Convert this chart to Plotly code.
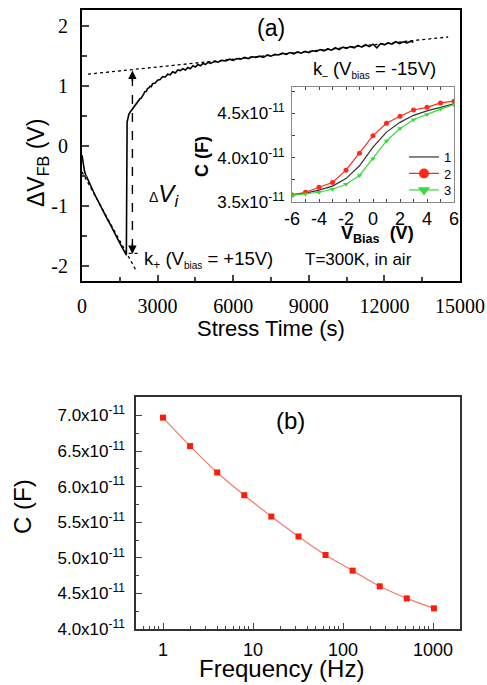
import plotly.graph_objects as go

W, H = 487, 685
OFF = 0  # page margin is removed by the post script below

# ---------------- Panel (a): flat-band voltage shift vs stress time ----------------
T_STRESS = [0, 20, 40, 70, 100, 140, 180, 220, 300, 380, 460, 540, 620, 700, 780, 860, 940,
            1020, 1100, 1180, 1260, 1340, 1420, 1500, 1580, 1660, 1720, 1760,
            1790, 1820, 1860, 1900, 1950, 2000, 2050, 2100, 2150, 2200, 2250, 2300, 2350,
            2400, 2450, 2500, 2550, 2600, 2650, 2700, 2750, 2800, 2900, 3000, 3100, 3200,
            3300, 3400, 3500, 3600, 3700, 3800, 3900, 4000, 4100, 4200, 4300, 4400, 4500,
            4600, 4700, 4800, 4900, 5000, 5100, 5250, 5400, 5550, 5700, 5850, 6000, 6150,
            6300, 6450, 6600, 6750, 6900, 7050, 7200, 7350, 7500, 7650, 7800, 7950, 8100,
            8250, 8400, 8550, 8700, 8850, 9000, 9150, 9300, 9450, 9600, 9750, 9900, 10050,
            10200, 10350, 10500, 10650, 10800, 10950, 11100, 11250, 11400, 11550, 11700,
            11850, 12000, 12150, 12300, 12450, 12600, 12750, 12900, 13050, 13150]
DV_FB = [-0.15, -0.22, -0.30, -0.36, -0.42, -0.47, -0.51, -0.55, -0.62, -0.70, -0.76, -0.84,
         -0.90, -0.97, -1.03, -1.10, -1.16, -1.23, -1.29, -1.36, -1.42, -1.49, -1.55, -1.62,
         -1.68, -1.75, -1.79, -1.82,
         0.40, 0.47, 0.53, 0.56, 0.59, 0.63, 0.65, 0.69, 0.70, 0.74, 0.76, 0.79, 0.80,
         0.85, 0.87, 0.91, 0.91, 0.96, 0.97, 1.00, 0.99, 1.04, 1.05, 1.10, 1.11, 1.16,
         1.15, 1.20, 1.19, 1.24, 1.22, 1.27, 1.26, 1.29, 1.27, 1.31, 1.29, 1.34, 1.32,
         1.36, 1.34, 1.38, 1.36, 1.40, 1.38, 1.41, 1.40, 1.43, 1.42, 1.45, 1.43, 1.46,
         1.45, 1.48, 1.46, 1.49, 1.48, 1.50, 1.48, 1.52, 1.50, 1.53, 1.52, 1.55, 1.53,
         1.56, 1.54, 1.57, 1.55, 1.58, 1.56, 1.59, 1.58, 1.61, 1.59, 1.62, 1.60, 1.64,
         1.61, 1.65, 1.63, 1.66, 1.64, 1.68, 1.65, 1.69, 1.66, 1.70, 1.64,
         1.71, 1.69, 1.72, 1.70, 1.74, 1.71, 1.74, 1.72, 1.75, 1.73]
A_XTICKS = [0, 3000, 6000, 9000, 12000, 15000]
A_YTICKS = [-2, -1, 0, 1, 2]

# tangent (dotted) lines k- and k+
K_MINUS_T = [240, 14530]
K_MINUS_V = [1.20, 1.82]
K_PLUS_T = [0, 2180]
K_PLUS_V = [-0.43, -2.10]
K_PLUS_END_T = [1850, 2250]
K_PLUS_END_V = [-1.79, -1.79]
# dashed double arrow ΔVi
DVI_T = 2000
DVI_V = [-1.80, 1.26]

# ---------------- Inset: C-V curves ----------------
V_BIAS = [-6, -5, -4, -3, -2, -1, 0, 1, 2, 3, 4, 5, 6]
C_1 = [3.58e-11, 3.60e-11, 3.635e-11, 3.68e-11, 3.765e-11, 3.91e-11, 4.12e-11, 4.29e-11,
       4.40e-11, 4.48e-11, 4.53e-11, 4.57e-11, 4.61e-11]
C_2 = [3.58e-11, 3.61e-11, 3.667e-11, 3.72e-11, 3.86e-11, 4.05e-11, 4.25e-11, 4.39e-11,
       4.47e-11, 4.54e-11, 4.57e-11, 4.62e-11, 4.64e-11]
C_3 = [3.574e-11, 3.59e-11, 3.61e-11, 3.644e-11, 3.70e-11, 3.80e-11, 3.99e-11, 4.19e-11,
       4.33e-11, 4.43e-11, 4.49e-11, 4.55e-11, 4.60e-11]
INSET_LABELS = ["1", "2", "3"]
INSET_XTICKS = [-6, -4, -2, 0, 2, 4, 6]
INSET_YTICKS = [3.5e-11, 4.0e-11, 4.5e-11]
INSET_YTEXT = ["3.5x10<sup>-11</sup>", "4.0x10<sup>-11</sup>", "4.5x10<sup>-11</sup>"]

# ---------------- Panel (b): C vs frequency ----------------
FREQ = [1, 2, 4, 8, 16, 32, 64, 128, 256, 512, 1024]
C_FREQ = [6.97e-11, 6.57e-11, 6.20e-11, 5.88e-11, 5.58e-11, 5.30e-11, 5.04e-11, 4.82e-11,
          4.60e-11, 4.43e-11, 4.29e-11]
B_YTICKS = [4.0e-11, 4.5e-11, 5.0e-11, 5.5e-11, 6.0e-11, 6.5e-11, 7.0e-11]
B_YTEXT = [f"{v*1e11:.1f}x10<sup>-11</sup>" for v in B_YTICKS]
B_XTICKS = [1, 10, 100, 1000]
B_XMINOR = [0.6, 0.7, 0.8, 0.9, 2, 3, 4, 5, 6, 7, 8, 9, 20, 30, 40, 50, 60, 70, 80, 90,
            200, 300, 400, 500, 600, 700, 800, 900, 2000]

SANS = "Liberation Sans, Arial, sans-serif"
SERIF = "Liberation Serif, Times New Roman, serif"
RED = "#ff2a1a"
GREEN = "#3ada3a"
BLACK_CV = "#333333"


def px(x, y):
    """reference pixel -> paper coordinate"""
    return (x - OFF) / W, 1 - (y - OFF) / H


fig = go.Figure()

# panel (a) traces
fig.add_trace(go.Scatter(x=T_STRESS, y=DV_FB, mode="lines", line=dict(color="black", width=1.6),
                         showlegend=False, xaxis="x", yaxis="y"))
for tt, vv in [(K_MINUS_T, K_MINUS_V), (K_PLUS_T, K_PLUS_V), (K_PLUS_END_T, K_PLUS_END_V)]:
    fig.add_trace(go.Scatter(x=tt, y=vv, mode="lines", line=dict(color="black", width=1.3, dash="dot"),
                             showlegend=False, xaxis="x", yaxis="y"))
fig.add_trace(go.Scatter(x=[DVI_T, DVI_T], y=[DVI_V[0] + 0.1, DVI_V[1] - 0.1], mode="lines",
                         line=dict(color="black", width=1.4, dash="dash"),
                         showlegend=False, xaxis="x", yaxis="y"))

# inset traces
fig.add_trace(go.Scatter(x=V_BIAS, y=C_1, mode="lines", line=dict(color=BLACK_CV, width=1.2),
                         showlegend=False, xaxis="x2", yaxis="y2"))
fig.add_trace(go.Scatter(x=V_BIAS, y=C_2, mode="lines+markers", line=dict(color=RED, width=1.2),
                         marker=dict(symbol="circle", size=5, color=RED),
                         showlegend=False, xaxis="x2", yaxis="y2"))
fig.add_trace(go.Scatter(x=V_BIAS, y=C_3, mode="lines+markers", line=dict(color=GREEN, width=1.2),
                         marker=dict(symbol="triangle-down", size=5, color=GREEN),
                         showlegend=False, xaxis="x2", yaxis="y2"))
# legend entries for inset (one legend per entry so the row spacing matches)
fig.add_trace(go.Scatter(x=[None], y=[None], mode="lines", name=INSET_LABELS[0], legend="legend",
                         line=dict(color=BLACK_CV, width=1.2), xaxis="x2", yaxis="y2"))
fig.add_trace(go.Scatter(x=[None], y=[None], mode="lines+markers", name=INSET_LABELS[1], legend="legend2",
                         line=dict(color=RED, width=1.2), marker=dict(symbol="circle", size=10, color=RED),
                         xaxis="x2", yaxis="y2"))
fig.add_trace(go.Scatter(x=[None], y=[None], mode="lines+markers", name=INSET_LABELS[2], legend="legend3",
                         line=dict(color=GREEN, width=1.2),
                         marker=dict(symbol="triangle-down", size=11, color=GREEN),
                         xaxis="x2", yaxis="y2"))

# panel (b)
fig.add_trace(go.Scatter(x=FREQ, y=C_FREQ, mode="lines+markers",
                         line=dict(color="#f07a70", width=1.2, shape="spline"),
                         marker=dict(symbol="square", size=6, color="#ff1a0a"),
                         showlegend=False, xaxis="x3", yaxis="y3"))

ax_common = dict(showgrid=False, zeroline=False, ticks="inside", showline=True, mirror=True)

x0, ya1 = px(82, 10)
x1, ya0 = px(460, 281)
xi0, yi1 = px(292, 87)
xi1, yi0 = px(454, 202)
xb0, yb1 = px(136, 397)
_, yb0 = px(0, 629)


def leg(ypix):
    return dict(x=px(404, 0)[0], y=px(0, ypix)[1], xanchor="left", yanchor="middle",
                bgcolor="rgba(0,0,0,0)", font=dict(family=SANS, size=13, color="black"),
                itemwidth=30, tracegroupgap=0)


fig.update_layout(
    width=W, height=H, margin=dict(l=0, r=0, t=0, b=0),
    paper_bgcolor="white", plot_bgcolor="white", template="none",
    xaxis=dict(domain=[x0, x1], anchor="y", range=[0, 15000], tickvals=A_XTICKS,
               ticktext=[str(v) for v in A_XTICKS],
               ticklen=6, tickwidth=1.5, linewidth=2, linecolor="black",
               minor=dict(ticks="inside", dtick=1500, ticklen=4, tickwidth=1.5),
               tickfont=dict(family=SERIF, size=20, color="black"), ticklabelstandoff=6, **ax_common),
    yaxis=dict(domain=[ya0, ya1], anchor="x", range=[-2.25, 2.27], tickvals=A_YTICKS,
               ticktext=[str(v) for v in A_YTICKS],
               ticklen=7, tickwidth=1.5, linewidth=2, linecolor="black",
               minor=dict(ticks="inside", dtick=0.5, ticklen=5, tickwidth=1.5),
               tickfont=dict(family=SERIF, size=20, color="black"), ticklabelstandoff=8, **ax_common),
    xaxis2=dict(domain=[xi0, xi1], anchor="y2", range=[-6, 6], tickvals=INSET_XTICKS,
                ticktext=[str(v) for v in INSET_XTICKS],
                ticklen=3, tickwidth=1, linewidth=1, linecolor="#8a8a8a",
                minor=dict(ticks="inside", dtick=1, ticklen=3, tickwidth=1),
                tickfont=dict(family=SANS, size=18, color="black"), ticklabelstandoff=0,
                showgrid=False, zeroline=False, ticks="inside", showline=True, mirror="allticks"),
    yaxis2=dict(domain=[yi0, yi1], anchor="x2", range=[3.5e-11, 4.8e-11], tickvals=INSET_YTICKS,
                ticktext=INSET_YTEXT, ticklen=3, tickwidth=1, linewidth=1, linecolor="#8a8a8a",
                minor=dict(ticks="inside", dtick=0.25e-11, ticklen=3, tickwidth=1),
                tickfont=dict(family=SANS, size=17, color="black"), ticklabelstandoff=3, **ax_common),
    xaxis3=dict(domain=[xb0, x1], anchor="y3", type="log", range=[-0.3, 3.3], tickvals=B_XTICKS,
                ticktext=[str(v) for v in B_XTICKS], ticklen=6, tickwidth=1.2, linewidth=1.5,
                linecolor="#333333",
                minor=dict(ticks="inside", tickvals=B_XMINOR, ticklen=3, tickwidth=1),
                tickfont=dict(family=SANS, size=18, color="black"), ticklabelstandoff=4, **ax_common),
    yaxis3=dict(domain=[yb0, yb1], anchor="x3", range=[4.0e-11, 7.26e-11], tickvals=B_YTICKS,
                ticktext=B_YTEXT, ticklen=6, tickwidth=1.2, linewidth=1.5, linecolor="#333333",
                minor=dict(ticks="inside", dtick=0.25e-11, ticklen=3, tickwidth=1),
                tickfont=dict(family=SANS, size=17, color="black"), ticklabelstandoff=6, **ax_common),
    legend=leg(157), legend2=leg(173.5), legend3=leg(190),
)


def note(text, x, y, size, xanchor="center", yanchor="middle", family=SANS, angle=0):
    xp, yp = px(x, y)
    fig.add_annotation(text=text, x=xp, y=yp, xref="paper", yref="paper", showarrow=False,
                       xanchor=xanchor, yanchor=yanchor, textangle=angle,
                       font=dict(family=family, size=size, color="black"))


SUB = "<sub><span style='font-size:10px'>{}</span></sub>"

note("ΔV<sub>FB</sub> (V)", 38, 163, 23, angle=-90)
note("Stress Time (s)", 271, 328, 22)
note("(a)", 271, 28, 23)
note("k" + SUB.format("–") + " (V" + SUB.format("bias") + " = -15V)", 311, 70, 18.5, xanchor="left")
note("<span style='font-size:14px'>Δ</span><i>V<sub>i</sub></i>", 147, 195, 24, xanchor="left")
note("k" + "<sub><span style='font-size:12px'>+</span></sub>" + " (V" + SUB.format("bias") + " = +15V)",
     142, 260, 18.5, xanchor="left")
note("T=300K, in air", 303, 259, 17, xanchor="left")
note("<b>C (F)</b>", 202, 157, 18, angle=-90)
note("<b>V<sub>Bias</sub>  (V)</b>", 377, 234, 18)
note("(b)", 290, 420, 24)
note("C (F)", 22, 507, 24, angle=-90)
note("Frequency (Hz)", 281, 668, 24)

# arrowheads of the dashed ΔVi arrow
for tip, off in [(DVI_V[1], 12), (DVI_V[0], -12)]:
    fig.add_annotation(x=DVI_T, y=tip, xref="x", yref="y", ax=0, ay=off, text="", showarrow=True,
                       arrowhead=2, arrowsize=1.2, arrowwidth=1.4, arrowcolor="black")

fig.write_html("out.html", config={"displayModeBar": False},
               post_script="document.body.style.margin='0';document.body.style.overflow='hidden';")
